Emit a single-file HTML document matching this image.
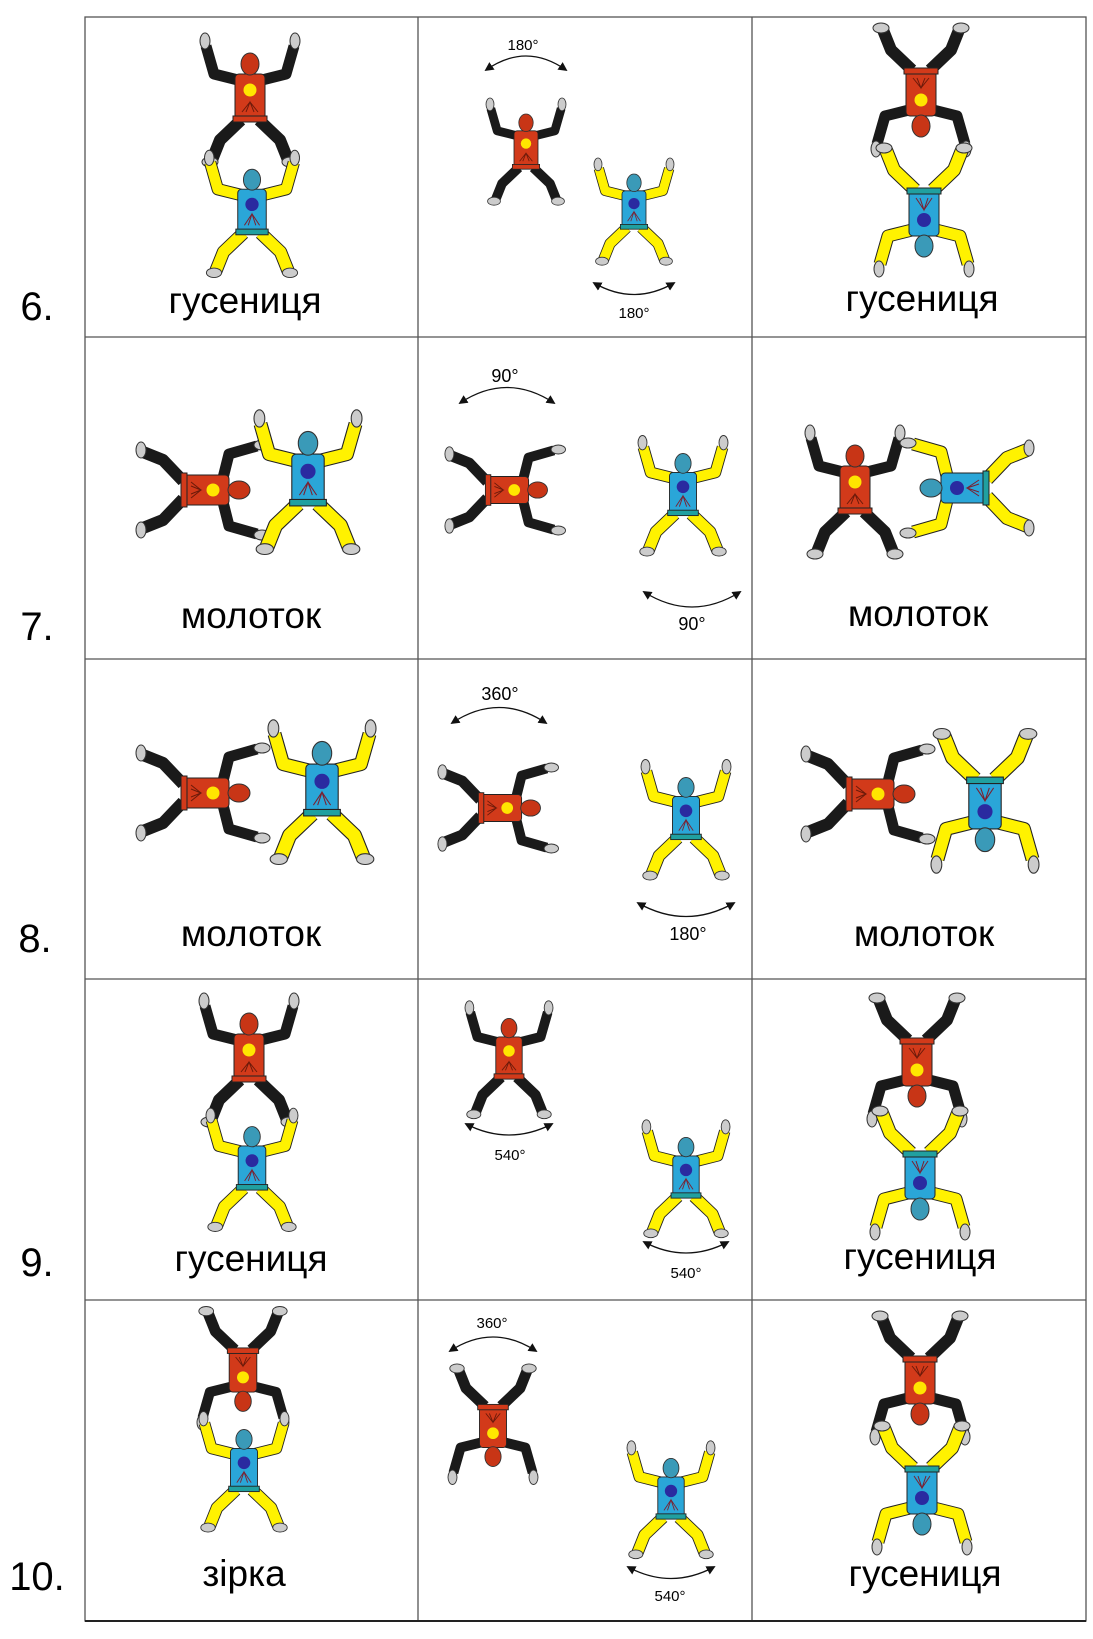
<!DOCTYPE html>
<html><head><meta charset="utf-8"><style>
html,body{margin:0;padding:0;background:#fff;}
svg{display:block;}
.lab{font-family:"Liberation Sans","DejaVu Sans",sans-serif;font-size:37px;fill:#000;text-anchor:middle;}
.num{font-family:"Liberation Sans","DejaVu Sans",sans-serif;font-size:40px;fill:#000;text-anchor:middle;}
.deg{font-family:"Liberation Sans","DejaVu Sans",sans-serif;font-size:15px;fill:#000;text-anchor:middle;}
</style></head><body>
<svg width="1093" height="1639" viewBox="0 0 1093 1639" xmlns="http://www.w3.org/2000/svg">
<defs>
<marker id="ah" viewBox="0 0 10 10" refX="8" refY="5" markerWidth="7" markerHeight="7" orient="auto-start-reverse"><path d="M0,0 L10,5 L0,10 z" fill="#111"/></marker>
<g id="red">
 <path d="M-12,-18 L-36,-24 L-44,-52" fill="none" stroke="#111" stroke-width="1" />
 <path d="M-12,-18 L-36,-24 L-44,-52 M12,-18 L36,-24 L44,-52" fill="none" stroke="#1a1a1a" stroke-width="11" stroke-linejoin="round"/>
 <path d="M-9,22 L-30,42 L-38,62 M9,22 L30,42 L38,62" fill="none" stroke="#1a1a1a" stroke-width="12" stroke-linejoin="round"/>
 <ellipse cx="-45" cy="-57" rx="5" ry="8" fill="#ccc" stroke="#333"/>
 <ellipse cx="45" cy="-57" rx="5" ry="8" fill="#ccc" stroke="#333"/>
 <ellipse cx="-40" cy="64" rx="8" ry="5" fill="#ccc" stroke="#333"/>
 <ellipse cx="40" cy="64" rx="8" ry="5" fill="#ccc" stroke="#333"/>
 <rect x="-15" y="-24" width="30" height="46" rx="4" fill="#d23a1a" stroke="#222"/>
 <rect x="-17" y="18" width="34" height="6" fill="#d23a1a" stroke="#222"/>
 <circle cx="0" cy="-8" r="6.5" fill="#ffe600"/>
 <path d="M-8,14 L0,4 L8,14 M-4,14 L0,4 L4,14" stroke="#6b1a0a" fill="none"/>
 <ellipse cx="0" cy="-34" rx="9" ry="11" fill="#c83516" stroke="#333"/>
</g>
<g id="blue">
 <path d="M-12,-18 L-36,-24 L-44,-52 M12,-18 L36,-24 L44,-52" fill="none" stroke="#222" stroke-width="13" stroke-linejoin="round"/>
 <path d="M-12,-18 L-36,-24 L-44,-52 M12,-18 L36,-24 L44,-52" fill="none" stroke="#fff200" stroke-width="11" stroke-linejoin="round"/>
 <path d="M-9,22 L-30,42 L-38,62 M9,22 L30,42 L38,62" fill="none" stroke="#222" stroke-width="14" stroke-linejoin="round"/>
 <path d="M-9,22 L-30,42 L-38,62 M9,22 L30,42 L38,62" fill="none" stroke="#fff200" stroke-width="12" stroke-linejoin="round"/>
 <ellipse cx="-45" cy="-57" rx="5" ry="8" fill="#ccc" stroke="#333"/>
 <ellipse cx="45" cy="-57" rx="5" ry="8" fill="#ccc" stroke="#333"/>
 <ellipse cx="-40" cy="64" rx="8" ry="5" fill="#ccc" stroke="#333"/>
 <ellipse cx="40" cy="64" rx="8" ry="5" fill="#ccc" stroke="#333"/>
 <rect x="-15" y="-24" width="30" height="46" rx="4" fill="#2aa6d8" stroke="#222"/>
 <rect x="-17" y="18" width="34" height="6" fill="#20a0a0" stroke="#222"/>
 <circle cx="0" cy="-8" r="7" fill="#2a2aa0"/>
 <path d="M-8,14 L0,2 L8,14 M-4,14 L0,2 L4,14" stroke="#7a2030" fill="none"/>
 <ellipse cx="0" cy="-34" rx="9" ry="11" fill="#3a9ab8" stroke="#333"/>
</g>
</defs>

<!-- grid -->
<g stroke="#555" stroke-width="1.3" fill="none">
 <rect x="85" y="17" width="1001" height="1604"/>
 <line x1="418" y1="17" x2="418" y2="1621"/>
 <line x1="752" y1="17" x2="752" y2="1621"/>
 <line x1="85" y1="337" x2="1086" y2="337"/>
 <line x1="85" y1="659" x2="1086" y2="659"/>
 <line x1="85" y1="979" x2="1086" y2="979"/>
 <line x1="85" y1="1300" x2="1086" y2="1300"/>
</g>
<line x1="85" y1="1621" x2="1086" y2="1621" stroke="#222" stroke-width="2"/>

<!-- numbers -->
<text class="num" x="37" y="320">6.</text>
<text class="num" x="37" y="640">7.</text>
<text class="num" x="35" y="952">8.</text>
<text class="num" x="37" y="1276">9.</text>
<text class="num" x="37" y="1590">10.</text>

<!-- labels -->
<text class="lab" x="245" y="313">гусениця</text>
<text class="lab" x="922" y="311">гусениця</text>
<text class="lab" x="251" y="628">молоток</text>
<text class="lab" x="918" y="626">молоток</text>
<text class="lab" x="251" y="946">молоток</text>
<text class="lab" x="924" y="946">молоток</text>
<text class="lab" x="251" y="1271">гусениця</text>
<text class="lab" x="920" y="1269">гусениця</text>
<text class="lab" x="244" y="1586">зірка</text>
<text class="lab" x="925" y="1586">гусениця</text>

<!-- Row 6 -->
<use href="#red" transform="translate(250,98)"/>
<use href="#blue" transform="translate(252,212) scale(0.95)"/>
<use href="#red" transform="translate(526,150) scale(0.8)"/>
<use href="#blue" transform="translate(634,210) scale(0.8)"/>
<use href="#red" transform="translate(921,92) rotate(180)"/>
<use href="#blue" transform="translate(924,212) rotate(180)"/>
<path d="M486,70 Q526,42 566,70" fill="none" stroke="#111" stroke-width="1.3" marker-start="url(#ah)" marker-end="url(#ah)"/>
<text class="deg" x="523" y="50">180°</text>
<path d="M594,283 Q634,306 674,283" fill="none" stroke="#111" stroke-width="1.3" marker-start="url(#ah)" marker-end="url(#ah)"/>
<text class="deg" x="634" y="318">180°</text>

<!-- Row 7 -->
<use href="#red" transform="translate(205,490) rotate(90)"/>
<use href="#blue" transform="translate(308,480) scale(1.08)"/>
<use href="#red" transform="translate(507,490) rotate(90) scale(0.9)"/>
<use href="#blue" transform="translate(683,494) scale(0.9)"/>
<use href="#red" transform="translate(855,490)"/>
<use href="#blue" transform="translate(965,488) rotate(-90)"/>
<path d="M460,403 Q507,372 554,403" fill="none" stroke="#111" stroke-width="1.3" marker-start="url(#ah)" marker-end="url(#ah)"/>
<text class="deg" x="505" y="382" style="font-size:18px">90°</text>
<path d="M644,592 Q692,622 740,592" fill="none" stroke="#111" stroke-width="1.3" marker-start="url(#ah)" marker-end="url(#ah)"/>
<text class="deg" x="692" y="630" style="font-size:18px">90°</text>

<!-- Row 8 -->
<use href="#red" transform="translate(205,793) rotate(90)"/>
<use href="#blue" transform="translate(322,790) scale(1.08)"/>
<use href="#red" transform="translate(500,808) rotate(90) scale(0.9)"/>
<use href="#blue" transform="translate(686,818) scale(0.9)"/>
<use href="#red" transform="translate(870,794) rotate(90)"/>
<use href="#blue" transform="translate(985,803) rotate(180) scale(1.08)"/>
<path d="M452,723 Q499,692 546,723" fill="none" stroke="#111" stroke-width="1.3" marker-start="url(#ah)" marker-end="url(#ah)"/>
<text class="deg" x="500" y="700" style="font-size:18px">360°</text>
<path d="M638,903 Q686,930 734,903" fill="none" stroke="#111" stroke-width="1.3" marker-start="url(#ah)" marker-end="url(#ah)"/>
<text class="deg" x="688" y="940" style="font-size:18px">180°</text>

<!-- Row 9 -->
<use href="#red" transform="translate(249,1058)"/>
<use href="#blue" transform="translate(252,1168) scale(0.92)"/>
<use href="#red" transform="translate(509,1058) scale(0.88)"/>
<use href="#blue" transform="translate(686,1177) scale(0.88)"/>
<use href="#red" transform="translate(917,1062) rotate(180)"/>
<use href="#blue" transform="translate(920,1175) rotate(180)"/>
<path d="M466,1124 Q509,1146 552,1124" fill="none" stroke="#111" stroke-width="1.3" marker-start="url(#ah)" marker-end="url(#ah)"/>
<text class="deg" x="510" y="1160">540°</text>
<path d="M644,1242 Q686,1264 728,1242" fill="none" stroke="#111" stroke-width="1.3" marker-start="url(#ah)" marker-end="url(#ah)"/>
<text class="deg" x="686" y="1278">540°</text>

<!-- Row 10 -->
<use href="#red" transform="translate(243,1370) rotate(180) scale(0.92)"/>
<use href="#blue" transform="translate(244,1470) scale(0.9)"/>
<use href="#red" transform="translate(493,1426) rotate(180) scale(0.9)"/>
<use href="#blue" transform="translate(671,1498) scale(0.88)"/>
<use href="#red" transform="translate(920,1380) rotate(180)"/>
<use href="#blue" transform="translate(922,1490) rotate(180)"/>
<path d="M450,1351 Q493,1323 536,1351" fill="none" stroke="#111" stroke-width="1.3" marker-start="url(#ah)" marker-end="url(#ah)"/>
<text class="deg" x="492" y="1328">360°</text>
<path d="M628,1567 Q671,1590 714,1567" fill="none" stroke="#111" stroke-width="1.3" marker-start="url(#ah)" marker-end="url(#ah)"/>
<text class="deg" x="670" y="1601">540°</text>
</svg>
</body></html>
